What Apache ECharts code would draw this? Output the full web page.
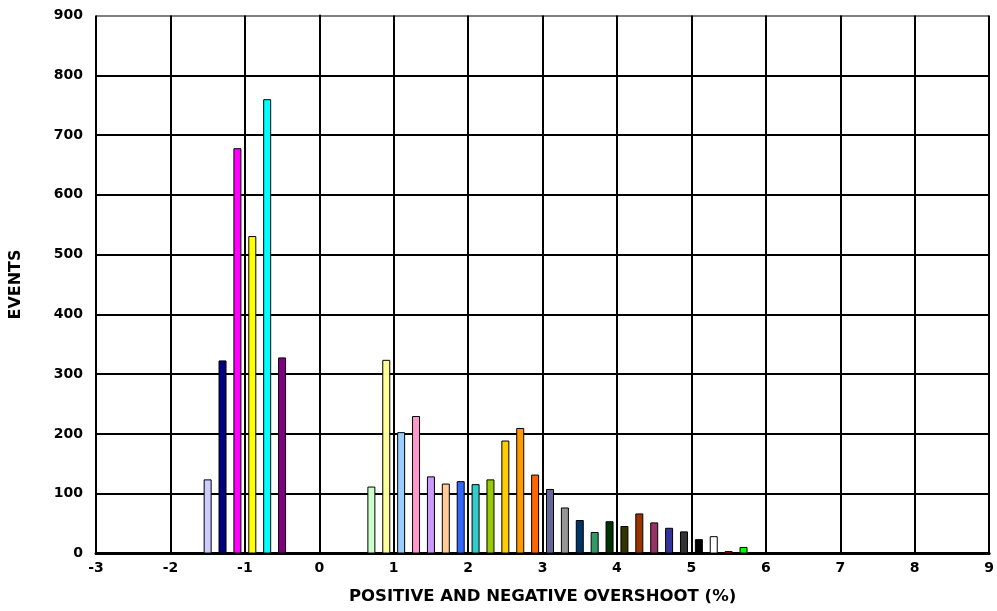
<!DOCTYPE html>
<html>
<head>
<meta charset="utf-8">
<script src="https://cdn.jsdelivr.net/npm/echarts@6/dist/echarts.min.js"></script>
<style>
html,body{margin:0;padding:0;background:#fff;}
#chart{width:997px;height:611px;}
</style>
</head>
<body>
<div id="chart"></div>
<script>
// Overshoot bin centres (%)
const overshoot = [-1.5, -1.3, -1.1, -0.9, -0.7, -0.5,
  0.7, 0.9, 1.1, 1.3, 1.5, 1.7, 1.9, 2.1, 2.3, 2.5, 2.7, 2.9,
  3.1, 3.3, 3.5, 3.7, 3.9, 4.1, 4.3, 4.5, 4.7, 4.9, 5.1, 5.3, 5.5, 5.7, 5.9];
// Number of events per bin
const events = [124, 323, 678, 531, 760, 328,
  112, 324, 203, 230, 129, 117, 121, 116, 124, 189, 210, 132,
  108, 77, 56, 36, 54, 46, 67, 52, 43, 37, 24, 29, 4, 11, 2];
// Bar fill colours
const barColors = ['#CCCCFF', '#000080', '#FF00FF', '#FFFF00', '#00FFFF', '#800080',
  '#CCFFCC', '#FFFF99', '#99CCFF', '#FF99CC', '#CC99FF', '#FFCC99', '#3366FF', '#33CCCC', '#99CC00', '#FFCC00', '#FF9900', '#FF6600',
  '#666699', '#969696', '#003366', '#339966', '#003300', '#333300', '#993300', '#993366', '#333399', '#333333', '#000000', '#FFFFFF', '#FF0000', '#00FF00', '#0000FF'];

const xTitle = 'POSITIVE AND NEGATIVE OVERSHOOT (%)';
const yTitle = 'EVENTS';

const data = overshoot.map((x, i) => ({
  value: [x, events[i]],
  itemStyle: { color: barColors[i] }
}));

const font = '"DejaVu Sans", "Liberation Sans", Arial, sans-serif';
const yGridColors = ['#000', '#000', '#000', '#000', '#000', '#000', '#000', '#000', '#000', '#808080'];

const chart = echarts.init(document.getElementById('chart'), null, { renderer: 'canvas' });
chart.setOption({
  animation: false,
  backgroundColor: '#fff',
  grid: { left: 96, right: 5, top: 15.5, bottom: 57.5, containLabel: false },
  xAxis: {
    type: 'value', min: -3, max: 9, interval: 1,
    axisLine: { show: true, onZero: false, lineStyle: { color: '#000', width: 3 } },
    axisTick: { show: false },
    splitLine: { show: true, lineStyle: { color: '#000', width: 2 } },
    axisLabel: { color: '#000', fontFamily: font, fontWeight: 'bold', fontSize: 14, margin: 8 },
    name: xTitle, nameLocation: 'middle', nameGap: 35,
    nameTextStyle: { color: '#000', fontFamily: font, fontWeight: 'bold', fontSize: 16.5 }
  },
  yAxis: {
    type: 'value', min: 0, max: 900, interval: 100,
    axisLine: { show: true, lineStyle: { color: '#000', width: 2 } },
    axisTick: { show: false },
    splitLine: { show: true, lineStyle: { color: yGridColors, width: 2 } },
    axisLabel: { color: '#000', fontFamily: font, fontWeight: 'bold', fontSize: 14, margin: 13 },
    name: yTitle, nameLocation: 'middle', nameGap: 72, nameRotate: 90,
    nameTextStyle: { color: '#000', fontFamily: font, fontWeight: 'bold', fontSize: 16 }
  },
  series: [{
    type: 'bar',
    data: data,
    barWidth: 8,
    itemStyle: { borderColor: '#000', borderWidth: 1 }
  }]
});
</script>
</body>
</html>
